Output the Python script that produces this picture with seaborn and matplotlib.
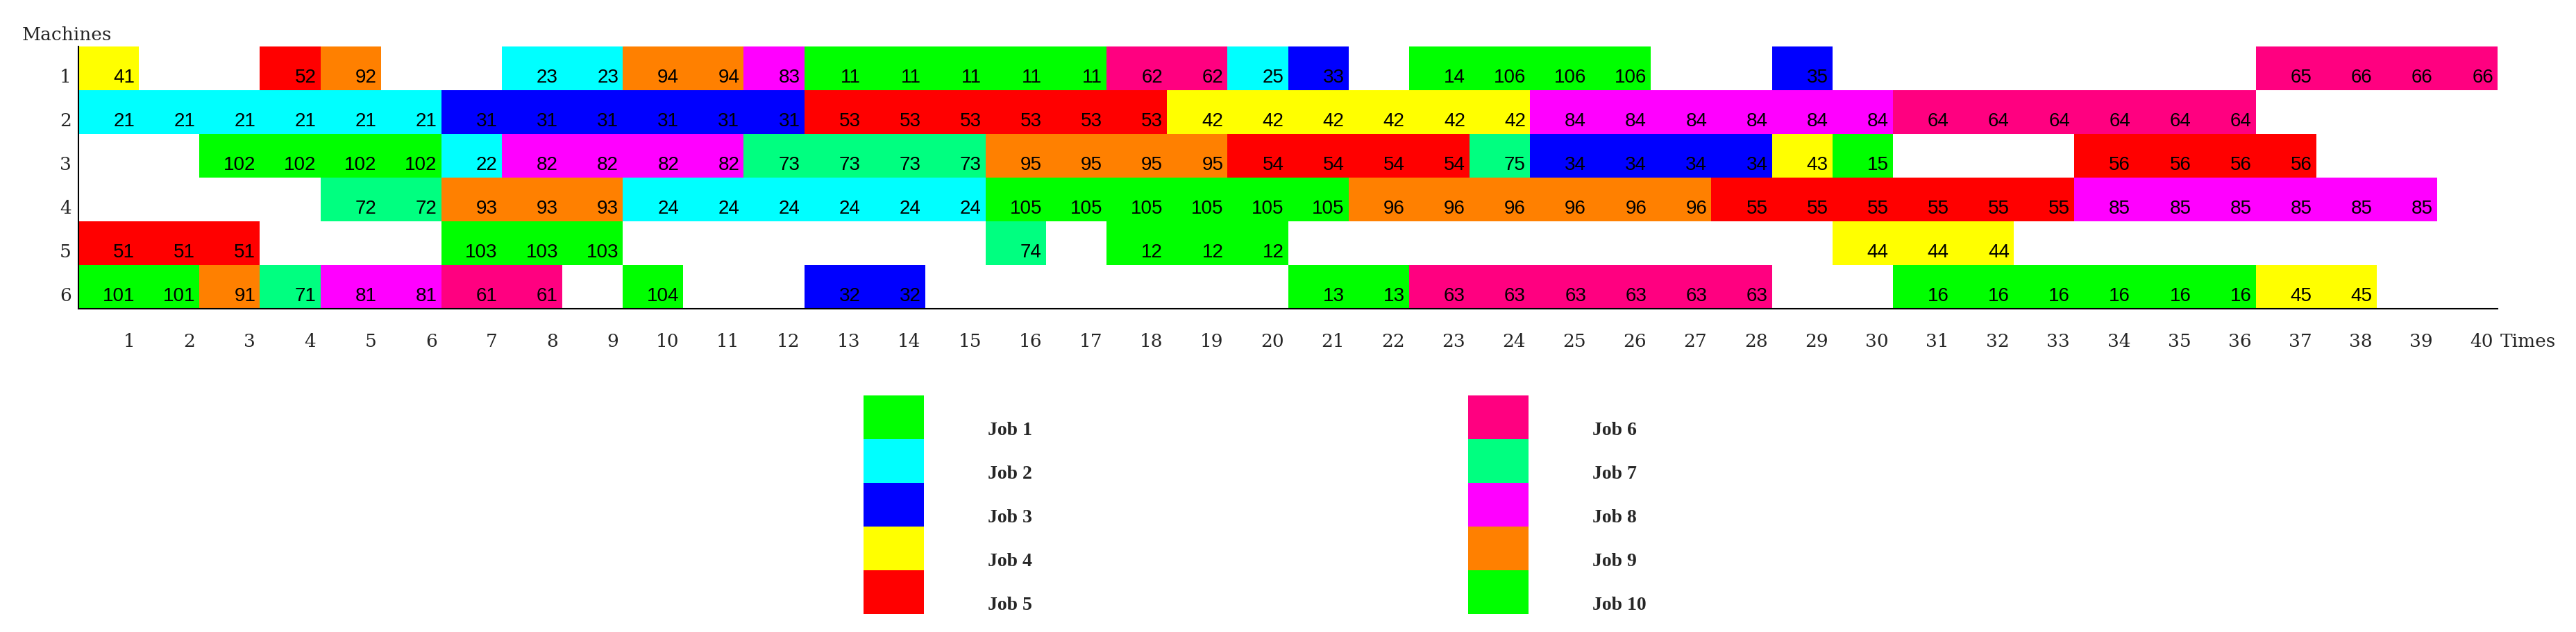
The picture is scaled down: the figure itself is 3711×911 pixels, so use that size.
import numpy as np
import matplotlib
matplotlib.use('Agg')
import matplotlib.pyplot as plt
from matplotlib.colors import ListedColormap
from matplotlib.transforms import offset_copy
import seaborn as sns

# one code per time slot: job number followed by operation number, 0 = machine idle
machine_1 = [41, 0, 0, 52, 92, 0, 0, 23, 23, 94, 94, 83, 11, 11, 11, 11, 11, 62, 62, 25,
             33, 0, 14, 106, 106, 106, 0, 0, 35, 0, 0, 0, 0, 0, 0, 0, 65, 66, 66, 66]
machine_2 = [21, 21, 21, 21, 21, 21, 31, 31, 31, 31, 31, 31, 53, 53, 53, 53, 53, 53, 42, 42,
             42, 42, 42, 42, 84, 84, 84, 84, 84, 84, 64, 64, 64, 64, 64, 64, 0, 0, 0, 0]
machine_3 = [0, 0, 102, 102, 102, 102, 22, 82, 82, 82, 82, 73, 73, 73, 73, 95, 95, 95, 95, 54,
             54, 54, 54, 75, 34, 34, 34, 34, 43, 15, 0, 0, 0, 56, 56, 56, 56, 0, 0, 0]
machine_4 = [0, 0, 0, 0, 72, 72, 93, 93, 93, 24, 24, 24, 24, 24, 24, 105, 105, 105, 105, 105,
             105, 96, 96, 96, 96, 96, 96, 55, 55, 55, 55, 55, 55, 85, 85, 85, 85, 85, 85, 0]
machine_5 = [51, 51, 51, 0, 0, 0, 103, 103, 103, 0, 0, 0, 0, 0, 0, 74, 0, 12, 12, 12,
             0, 0, 0, 0, 0, 0, 0, 0, 0, 44, 44, 44, 0, 0, 0, 0, 0, 0, 0, 0]
machine_6 = [101, 101, 91, 71, 81, 81, 61, 61, 0, 104, 0, 0, 32, 32, 0, 0, 0, 0, 0, 0,
             13, 13, 63, 63, 63, 63, 63, 63, 0, 0, 16, 16, 16, 16, 16, 16, 45, 45, 0, 0]

machines = ['1', '2', '3', '4', '5', '6']
times = list(range(1, 41))
job_ids = list(range(1, 11))
job_names = ['Job 1', 'Job 2', 'Job 3', 'Job 4', 'Job 5',
             'Job 6', 'Job 7', 'Job 8', 'Job 9', 'Job 10']
job_colors = ['#00FF00', '#00FFFF', '#0000FF', '#FFFF00', '#FF0000',
              '#FF0080', '#00FF80', '#FF00FF', '#FF8000', '#00FF00']

sns.set_style('white')
plt.rcParams['font.family'] = ['DejaVu Serif']

ops = np.array([machine_1, machine_2, machine_3, machine_4, machine_5, machine_6])
jobs = ops // 10
idle = ops == 0
annot = np.where(idle, '', ops.astype(str))
cmap = ListedColormap(job_colors)

W, H = 3712, 912
fig = plt.figure(figsize=(W / 100, H / 100), dpi=100)

# gantt grid
ax = fig.add_axes([113 / W, 1 - 446 / H, 3485 / W, 378 / H])
txt_trans = offset_copy(ax.transData, fig=fig, x=37.5, y=-19.5, units='dots')
sns.heatmap(jobs, mask=idle, cmap=cmap, vmin=0.5, vmax=10.5, cbar=False,
            annot=annot, fmt='',
            annot_kws=dict(color='black', ha='right', va='baseline', fontsize=20,
                           family='Liberation Sans', transform=txt_trans),
            xticklabels=False, yticklabels=False, ax=ax)

ax.set_xticks(np.array(times) - 0.07, labels=[str(t) for t in times])
ax.set_yticks(np.arange(len(machines)) + 0.5 + 0.31, labels=machines)
ax.tick_params(axis='x', length=0, pad=54 * 0.72, labelsize=19)
ax.tick_params(axis='y', length=0, pad=10 * 0.72, labelsize=19)
for lab in ax.get_xticklabels():
    lab.set_ha('right')
    lab.set_va('baseline')
for lab in ax.get_yticklabels():
    lab.set_va('baseline')

for s in ['left', 'bottom']:
    ax.spines[s].set_visible(True)
    ax.spines[s].set_color('black')
    ax.spines[s].set_linewidth(1.5)

fig.text(32 / W, 1 - 58 / H, 'Machines', ha='left', va='baseline', fontsize=19)
ax.annotate('Times', xy=(1, 0), xycoords='axes fraction', xytext=(4, -54),
            textcoords='offset pixels', ha='left', va='baseline', fontsize=19)

# legend, two columns of colour blocks
for x_px, part in [(1244, slice(0, 5)), (2115, slice(5, 10))]:
    lax = fig.add_axes([x_px / W, 1 - 886 / H, 87 / W, 315 / H])
    ids = np.array(job_ids[part]).reshape(-1, 1)
    sns.heatmap(ids, cmap=cmap, vmin=0.5, vmax=10.5, cbar=False,
                xticklabels=False, yticklabels=False, ax=lax)
    lax.yaxis.tick_right()
    lax.set_yticks(np.arange(5) + 0.5 + 24.5 / 63, labels=job_names[part])
    lax.tick_params(axis='y', length=0, pad=92 * 0.72, labelsize=20)
    for lab in lax.get_yticklabels():
        lab.set_va('baseline')
        lab.set_fontweight('bold')
        lab.set_family('Liberation Serif')

fig.savefig('out.png', dpi=100)
